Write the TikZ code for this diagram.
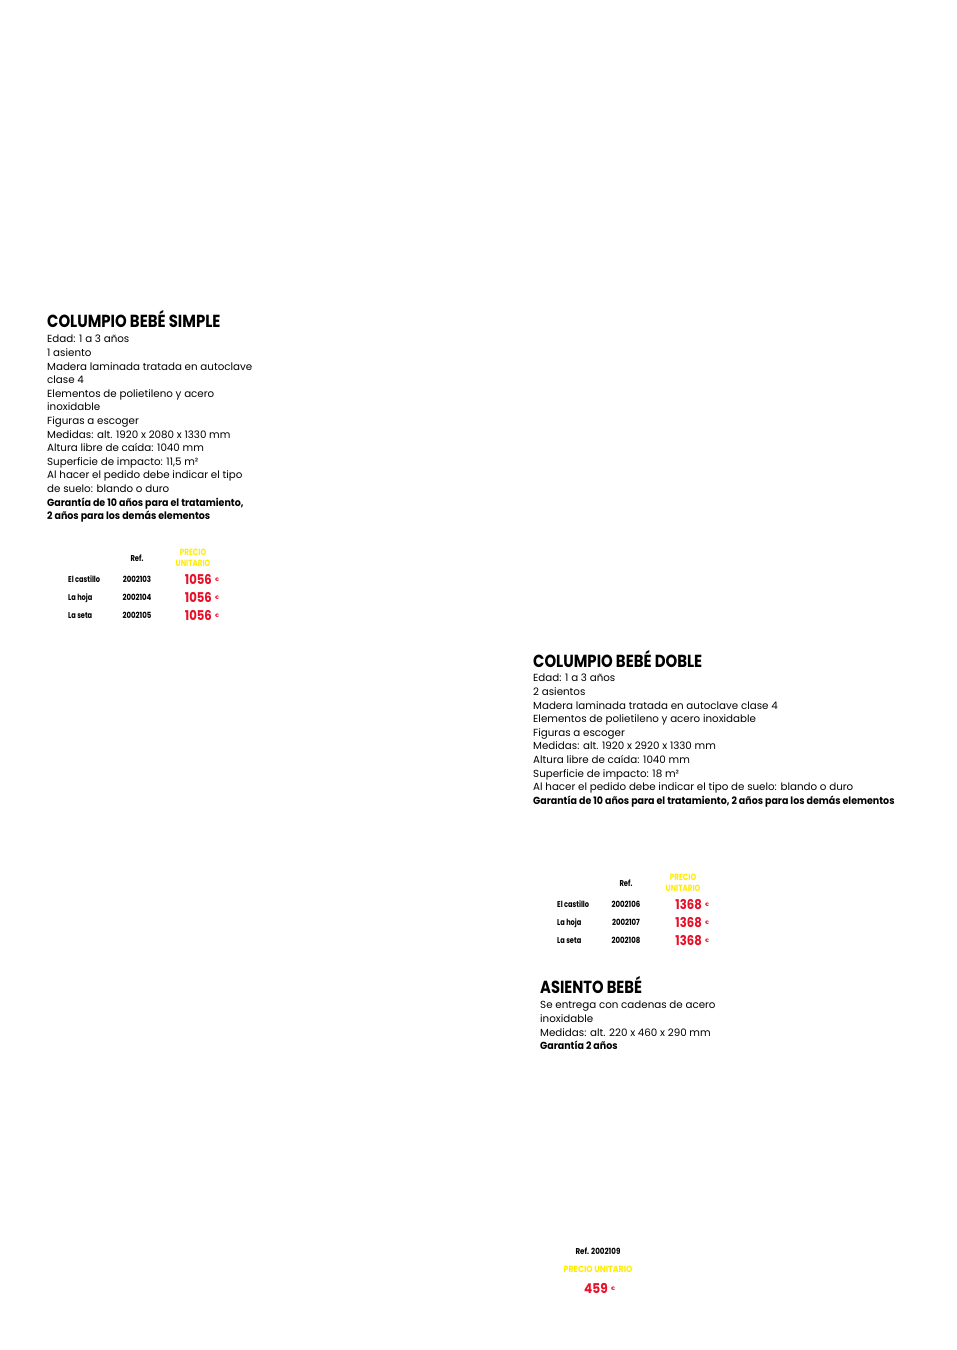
\documentclass[tikz,border=0pt]{standalone}
\usepackage{fontspec}
\setmainfont{Poppins}
\usepackage{graphicx}
\definecolor{pred}{RGB}{232,16,40}
\definecolor{pyel}{RGB}{255,236,0}
\newcommand{\cnd}[2]{\scalebox{#1}[1]{#2}}
\tikzset{
 ttl/.style={anchor=base west, inner sep=0, font=\fontsize{17.5}{17.5}\selectfont\bfseries},
 body/.style={anchor=north west, inner sep=0, align=left, font=\fontsize{10.3}{13.6}\selectfont},
 cell/.style={inner sep=0, anchor=base, font=\fontsize{8.5}{8.5}\selectfont\bfseries},
 rowname/.style={cell, anchor=base west},
 price/.style={inner sep=0, anchor=base east, text=pred, font=\fontsize{13.5}{13.5}\selectfont\bfseries},
 euro/.style={inner sep=0, anchor=base west, text=pred, font=\fontsize{5}{5}\selectfont\bfseries},
 phead/.style={inner sep=0, anchor=center, align=center, text=pyel, font=\fontsize{9}{10.5}\selectfont\bfseries},
}
\begin{document}
\begin{tikzpicture}[x=1pt,y=-1pt]
\useasboundingbox[fill=white] (0,0) rectangle (957,1350);

% ---- Block 1
\node[ttl] (t1) at (47,327) {\cnd{0.85}{COLUMPIO BEBÉ SIMPLE}};
\node[body] (b1) at (47,335) {Edad: 1 a 3 años\\
1 asiento\\
Madera laminada tratada en autoclave\\
clase 4\\
Elementos de polietileno y acero\\
inoxidable\\
Figuras a escoger\\
Medidas: alt. 1920 x 2080 x 1330 mm\\
Altura libre de caída: 1040 mm\\
Superficie de impacto: 11,5 m²\\
Al hacer el pedido debe indicar el tipo\\
de suelo: blando o duro\\
\textbf{\cnd{0.92}{Garantía de 10 años para el tratamiento,}}\\
\textbf{\cnd{0.92}{2 años para los demás elementos}}};

% ---- Table 1
\node[cell] (r1h) at (137,561) {\cnd{0.8}{Ref.}};
\node[phead] (p1h) at (193,558) {\cnd{0.8}{PRECIO}\\\cnd{0.8}{UNITARIO}};
\node[rowname] (n11) at (68,582) {\cnd{0.78}{El castillo}};
\node[rowname] (n12) at (68,600) {\cnd{0.78}{La hoja}};
\node[rowname] (n13) at (68,618) {\cnd{0.78}{La seta}};
\node[cell] (c11) at (137,582) {\cnd{0.82}{2002103}};
\node[cell] (c12) at (137,600) {\cnd{0.82}{2002104}};
\node[cell] (c13) at (137,618) {\cnd{0.82}{2002105}};
\node[price] (v11) at (212,584) {\cnd{0.86}{1056}};
\node[price] (v12) at (212,602) {\cnd{0.86}{1056}};
\node[price] (v13) at (212,620) {\cnd{0.86}{1056}};
\node[euro] (e11) at (215,581) {€};
\node[euro] (e12) at (215,599) {€};
\node[euro] (e13) at (215,617) {€};

% ---- Block 2
\node[ttl] (t2) at (533,667) {\cnd{0.85}{COLUMPIO BEBÉ DOBLE}};
\node[body] (b2) at (533,674) {Edad: 1 a 3 años\\
2 asientos\\
Madera laminada tratada en autoclave clase 4\\
Elementos de polietileno y acero inoxidable\\
Figuras a escoger\\
Medidas: alt. 1920 x 2920 x 1330 mm\\
Altura libre de caída: 1040 mm\\
Superficie de impacto: 18 m²\\
Al hacer el pedido debe indicar el tipo de suelo: blando o duro\\
\textbf{\cnd{0.92}{Garantía de 10 años para el tratamiento, 2 años para los demás elementos}}};

% ---- Table 2
\node[cell] (r2h) at (626,886) {\cnd{0.8}{Ref.}};
\node[phead] (p2h) at (683,883) {\cnd{0.8}{PRECIO}\\\cnd{0.8}{UNITARIO}};
\node[rowname] (n21) at (557,907) {\cnd{0.78}{El castillo}};
\node[rowname] (n22) at (557,925) {\cnd{0.78}{La hoja}};
\node[rowname] (n23) at (557,943) {\cnd{0.78}{La seta}};
\node[cell] (c21) at (626,907) {\cnd{0.82}{2002106}};
\node[cell] (c22) at (626,925) {\cnd{0.82}{2002107}};
\node[cell] (c23) at (626,943) {\cnd{0.82}{2002108}};
\node[price] (v21) at (702,909) {\cnd{0.86}{1368}};
\node[price] (v22) at (702,927) {\cnd{0.86}{1368}};
\node[price] (v23) at (702,945) {\cnd{0.86}{1368}};
\node[euro] (e21) at (705,906) {€};
\node[euro] (e22) at (705,924) {€};
\node[euro] (e23) at (705,942) {€};

% ---- Block 3
\node[ttl] (t3) at (540,993) {\cnd{0.84}{ASIENTO BEBÉ}};
\node[body] (b3) at (540,1001) {Se entrega con cadenas de acero\\
inoxidable\\
Medidas: alt. 220 x 460 x 290 mm\\
\textbf{\cnd{0.92}{Garantía 2 años}}};

% ---- Bottom price
\node[cell] (r3h) at (598,1254) {\cnd{0.84}{Ref. 2002109}};
\node[phead, anchor=base] (p3h) at (598,1272) {\cnd{0.88}{PRECIO UNITARIO}};
\node[price] (v3) at (608,1293) {\cnd{0.9}{459}};
\node[euro] (e3) at (611,1290) {€};
\end{tikzpicture}
\end{document}
